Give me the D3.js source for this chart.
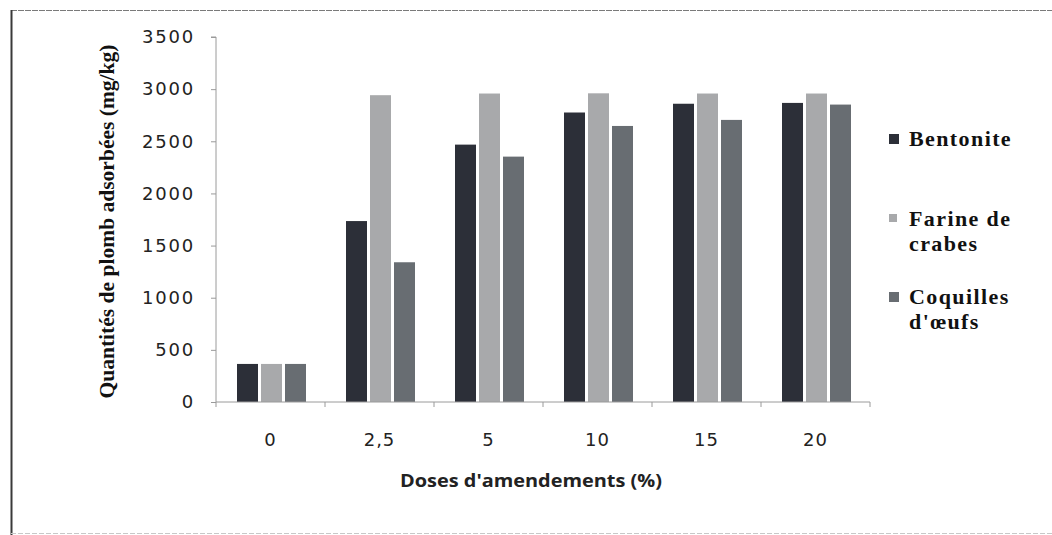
<!DOCTYPE html>
<html>
<head>
<meta charset="utf-8">
<script src="https://cdn.jsdelivr.net/npm/d3@7/dist/d3.min.js"></script>
<style>
  html, body { margin: 0; padding: 0; background: #ffffff; }
  svg { display: block; }
</style>
</head>
<body>
<svg id="chart" width="1052" height="535"></svg>
<script>
// Doses of amendment (x categories)
const doses = ["0", "2,5", "5", "10", "15", "20"];
// Series names and lead amounts adsorbed (mg/kg)
const seriesNames = ["Bentonite", "Farine de crabes", "Coquilles d'œufs"];
const bentonite = [365, 1735, 2468, 2776, 2860, 2868];
const farineCrabes = [365, 2942, 2958, 2960, 2958, 2958];
const coquillesOeufs = [365, 1340, 2353, 2647, 2705, 2852];
const yTicks = [0, 500, 1000, 1500, 2000, 2500, 3000, 3500];
const seriesColors = ["#2c2f38", "#a8a9ab", "#686d72"];

const seriesValues = [bentonite, farineCrabes, coquillesOeufs];

const svg = d3.select("#chart");

// Page frame
svg.append("line").attr("x1", 11).attr("x2", 1052).attr("y1", 10.5).attr("y2", 10.5)
  .attr("stroke", "#7a7a7a").attr("stroke-width", 1.2).attr("stroke-dasharray", "6,1");
svg.append("line").attr("x1", 11.5).attr("x2", 11.5).attr("y1", 10).attr("y2", 535)
  .attr("stroke", "#3a3a3a").attr("stroke-width", 2);
svg.append("line").attr("x1", 11).attr("x2", 1052).attr("y1", 533.5).attr("y2", 533.5)
  .attr("stroke", "#c8c8c8").attr("stroke-width", 1).attr("stroke-dasharray", "5,2");

const plot = { left: 216, right: 870, top: 37, bottom: 402 };

const x = d3.scaleBand().domain(doses).range([plot.left, plot.right]).padding(0);
const groupWidth = 69;
const xInner = d3.scaleBand().domain(d3.range(seriesNames.length))
  .range([0, groupWidth]).paddingInner(0.125).paddingOuter(0);
const y = d3.scaleLinear().domain([0, 3500]).range([plot.bottom, plot.top]);

// Bars
const g = svg.append("g");
doses.forEach((d, i) => {
  const gx = x(d) + (x.bandwidth() - groupWidth) / 2 + 1;
  seriesValues.forEach((vals, s) => {
    g.append("rect")
      .attr("x", gx + xInner(s))
      .attr("y", y(vals[i]))
      .attr("width", xInner.bandwidth())
      .attr("height", y(0) - y(vals[i]))
      .attr("fill", seriesColors[s]);
  });
});

// Y axis
const yAxis = d3.axisLeft(y).tickValues(yTicks).tickSize(5).tickPadding(16)
  .tickFormat(d3.format("d"));
const yG = svg.append("g").attr("transform", `translate(${plot.left},0)`).call(yAxis);
yG.select(".domain").attr("stroke", "#9a9a9a").attr("d", `M-5,${plot.top}H0V${plot.bottom}`);
yG.selectAll(".tick line").attr("stroke", "#9a9a9a");
yG.selectAll(".tick text")
  .attr("font-family", "'DejaVu Sans', sans-serif")
  .attr("font-size", 18).attr("letter-spacing", 1.8)
  .attr("fill", "#222");

// X axis
const xAxis = d3.axisBottom(x).tickSize(0).tickPadding(31);
const xG = svg.append("g").attr("transform", `translate(0,${plot.bottom})`).call(xAxis);
xG.select(".domain").attr("stroke", "#9a9a9a").attr("d", `M${plot.left},0H${plot.right}`);
xG.selectAll(".tick text")
  .attr("font-family", "'DejaVu Sans', sans-serif")
  .attr("font-size", 18).attr("letter-spacing", 1)
  .attr("fill", "#222");
// boundary tick marks between categories
xG.selectAll(".sep").data(doses.concat(["end"])).enter().append("line")
  .attr("class", "sep")
  .attr("x1", (d, i) => plot.left + i * x.bandwidth())
  .attr("x2", (d, i) => plot.left + i * x.bandwidth())
  .attr("y1", 0).attr("y2", 5)
  .attr("stroke", "#9a9a9a");

// Axis titles
svg.append("text")
  .attr("transform", `translate(114,${(plot.top + plot.bottom) / 2 + 2}) rotate(-90)`)
  .attr("text-anchor", "middle")
  .attr("font-family", "'Liberation Serif', 'Times New Roman', serif")
  .attr("font-weight", "bold")
  .attr("font-size", 20)
  .attr("textLength", 354).attr("lengthAdjust", "spacingAndGlyphs")
  .attr("fill", "#111")
  .text("Quantités de plomb adsorbées (mg/kg)");

svg.append("text")
  .attr("x", 531).attr("y", 487)
  .attr("text-anchor", "middle")
  .attr("font-family", "'Open Sans', sans-serif")
  .attr("font-weight", "bold")
  .attr("font-size", 17)
  .attr("textLength", 262).attr("lengthAdjust", "spacingAndGlyphs")
  .attr("fill", "#222")
  .text("Doses d'amendements (%)");

// Legend
const legendItems = [
  { lines: ["Bentonite"], y: 146 },
  { lines: ["Farine de", "crabes"], y: 226 },
  { lines: ["Coquilles", "d'œufs"], y: 304 }
];
const lg = svg.append("g");
legendItems.forEach((item, s) => {
  lg.append("rect")
    .attr("x", 889).attr("y", item.y - 12)
    .attr("width", s === 1 ? 8 : 10).attr("height", s === 1 ? 8 : 10)
    .attr("fill", seriesColors[s]);
  item.lines.forEach((ln, k) => {
    lg.append("text")
      .attr("x", 909).attr("y", item.y + k * 25)
      .attr("font-family", "'Liberation Serif', 'Times New Roman', serif")
      .attr("font-weight", "bold")
      .attr("font-size", 22)
      .attr("letter-spacing", 1.4)
      .attr("fill", "#111")
      .text(ln);
  });
});
</script>
</body>
</html>
